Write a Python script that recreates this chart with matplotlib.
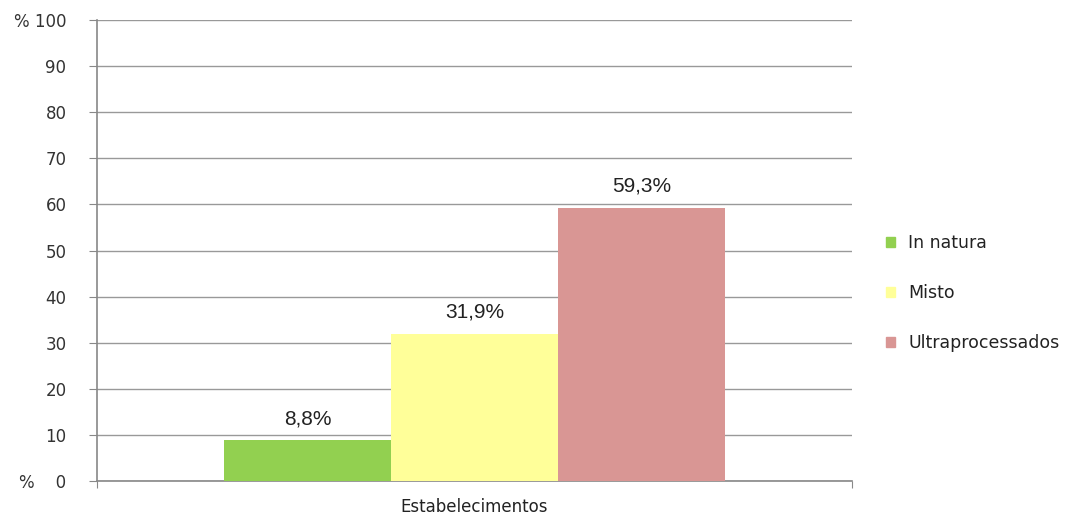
import numpy as np
import matplotlib.pyplot as plt
from matplotlib.patches import Patch

plt.rcParams['font.family'] = ['DejaVu Sans']

categories = ['In natura', 'Misto', 'Ultraprocessados']
values = [8.8, 31.9, 59.3]
labels = ['8,8%', '31,9%', '59,3%']
colors = ['#92d050', '#ffff99', '#d99694']
group = 'Estabelecimentos'
yticks = [0, 10, 20, 30, 40, 50, 60, 70, 80, 90, 100]
ytick_labels = ['%    0'] + [str(t) for t in yticks[1:-1]] + ['% 100']

fig = plt.figure(figsize=(10.73, 5.17), dpi=100)
ax = fig.add_axes([0.0904, 0.0696, 0.7036, 0.8917])

width = 0.221
offsets = (np.arange(len(values)) - 1) * width
for off, v, c, lab, cat in zip(offsets, values, colors, labels, categories):
    ax.bar(off, v, width, color=c, label=cat, zorder=3)
    ax.text(off, v + 2.6, lab, ha='center', va='bottom', fontsize=15,
            family='Liberation Sans', color='#222222')

ax.set_xlim(-0.5, 0.5)
ax.set_ylim(0, 100)
ax.set_yticks(yticks)
ax.set_yticklabels(ytick_labels, fontsize=12, color='#333333')
ax.set_xticks([-0.5, 0.5], minor=False)
ax.set_xticklabels(['', ''])
ax.set_xticks([0], minor=True)
ax.set_xticklabels([group], minor=True, fontsize=12, color='#222222')
ax.tick_params(axis='x', which='minor', length=0, pad=12)
ax.tick_params(axis='x', which='major', length=5, color='#888888', direction='out')
ax.tick_params(axis='y', length=6, color='#888888', pad=16)
ax.grid(axis='y', color='#999999', linewidth=1, zorder=0)
for s in ['top', 'right']:
    ax.spines[s].set_visible(False)
ax.spines['left'].set_color('#888888')
ax.spines['bottom'].set_color('#888888')
ax.spines['left'].set_linewidth(1.2)
ax.spines['bottom'].set_linewidth(1.2)

handles = [Patch(color=c, label=cat) for c, cat in zip(colors, categories)]
leg = fig.legend(handles=handles, loc='center left', bbox_to_anchor=(0.811, 0.433),
                 frameon=False, fontsize=12.5, handlelength=0.5, handleheight=0.5,
                 handletextpad=0.8, labelspacing=1.85)
for t in leg.get_texts():
    t.set_color('#222222')

fig.savefig('out.png', dpi=100)
